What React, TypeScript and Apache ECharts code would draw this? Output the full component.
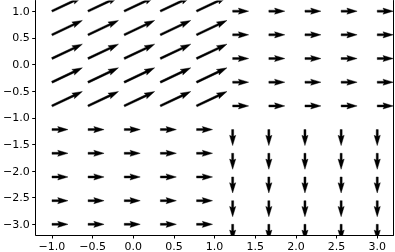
import React, { useEffect, useRef } from "react";
import * as echarts from "echarts";

// Grid coordinates (tails of arrows)
const X = [-1.0, -0.556, -0.111, 0.333, 0.778, 1.222, 1.667, 2.111, 2.556, 3.0];
const Y = [1.0, 0.556, 0.111, -0.333, -0.778, -1.222, -1.667, -2.111, -2.556, -3.0];

// Vector components, one row per Y value (top to bottom), one column per X value
const U = [
  [1.9, 1.9, 1.9, 1.9, 1.9, 1, 1, 1, 1, 1],
  [1.9, 1.9, 1.9, 1.9, 1.9, 1, 1, 1, 1, 1],
  [1.9, 1.9, 1.9, 1.9, 1.9, 1, 1, 1, 1, 1],
  [1.9, 1.9, 1.9, 1.9, 1.9, 1, 1, 1, 1, 1],
  [1.9, 1.9, 1.9, 1.9, 1.9, 1, 1, 1, 1, 1],
  [1, 1, 1, 1, 1, 0, 0, 0, 0, 0],
  [1, 1, 1, 1, 1, 0, 0, 0, 0, 0],
  [1, 1, 1, 1, 1, 0, 0, 0, 0, 0],
  [1, 1, 1, 1, 1, 0, 0, 0, 0, 0],
  [1, 1, 1, 1, 1, 0, 0, 0, 0, 0],
];
const V = [
  [0.9, 0.9, 0.9, 0.9, 0.9, 0, 0, 0, 0, 0],
  [0.9, 0.9, 0.9, 0.9, 0.9, 0, 0, 0, 0, 0],
  [0.9, 0.9, 0.9, 0.9, 0.9, 0, 0, 0, 0, 0],
  [0.9, 0.9, 0.9, 0.9, 0.9, 0, 0, 0, 0, 0],
  [0.9, 0.9, 0.9, 0.9, 0.9, 0, 0, 0, 0, 0],
  [0, 0, 0, 0, 0, -1, -1, -1, -1, -1],
  [0, 0, 0, 0, 0, -1, -1, -1, -1, -1],
  [0, 0, 0, 0, 0, -1, -1, -1, -1, -1],
  [0, 0, 0, 0, 0, -1, -1, -1, -1, -1],
  [0, 0, 0, 0, 0, -1, -1, -1, -1, -1],
];

const X_TICKS = [-1.0, -0.5, 0.0, 0.5, 1.0, 1.5, 2.0, 2.5, 3.0];
const Y_TICKS = [1.0, 0.5, 0.0, -0.5, -1.0, -1.5, -2.0, -2.5, -3.0];

const fmt = (v: number) => {
  const s = Math.abs(v).toFixed(1);
  return v < -1e-9 ? "\u2212" + s : s;
};

export default function App() {
  const ref = useRef<HTMLDivElement>(null);
  useEffect(() => {
    if (!ref.current) return;
    const chart = echarts.init(ref.current, null, { renderer: "svg" });
    const data: number[][] = [];
    Y.forEach((y, i) => {
      X.forEach((x, j) => {
        data.push([x, y, U[i][j], V[i][j]]);
      });
    });
    const PX_PER_UNIT = 16; // quiver scale
    const W = 2.05; // shaft width px
    const font = "DejaVu Sans";
    chart.setOption({
      animation: false,
      grid: { left: 33, right: 1.5, top: 0.5, bottom: 16 },
      xAxis: {
        type: "value",
        min: -1.2,
        max: 3.2,
        splitLine: { show: false },
        axisLine: { show: true, onZero: false, lineStyle: { color: "#000", width: 1 } },
        axisTick: { show: true, length: 3.5, customValues: X_TICKS, lineStyle: { color: "#000" } },
        axisLabel: {
          customValues: X_TICKS,
          formatter: fmt,
          color: "#000",
          fontFamily: font,
          fontSize: 11,
          margin: 6,
        },
      },
      yAxis: [
        {
          type: "value",
          min: -3.2,
          max: 1.2,
          splitLine: { show: false },
          axisLine: { show: true, onZero: false, lineStyle: { color: "#000", width: 1 } },
          axisTick: { show: true, length: 3.5, customValues: Y_TICKS, lineStyle: { color: "#000" } },
          axisLabel: {
            customValues: Y_TICKS,
            formatter: fmt,
            color: "#000",
            fontFamily: font,
            fontSize: 11,
            margin: 6,
          },
        },
        {
          type: "value",
          position: "right",
          min: -3.2,
          max: 1.2,
          splitLine: { show: false },
          axisLine: { show: true, onZero: false, lineStyle: { color: "#000", width: 1 } },
          axisTick: { show: false },
          axisLabel: { show: false },
        },
      ],
      series: [
        {
          type: "custom",
          clip: true,
          data,
          renderItem: (params: any, api: any) => {
            const x = api.value(0);
            const y = api.value(1);
            const u = api.value(2);
            const v = api.value(3);
            const p = api.coord([x, y]);
            const L = Math.sqrt(u * u + v * v) * PX_PER_UNIT;
            const ang = Math.atan2(-v, u);
            const c = Math.cos(ang);
            const s = Math.sin(ang);
            const local = [
              [0, -W / 2],
              [L - 4.5 * W, -W / 2],
              [L - 5 * W, -1.5 * W],
              [L, 0],
              [L - 5 * W, 1.5 * W],
              [L - 4.5 * W, W / 2],
              [0, W / 2],
            ];
            const pts = local.map(([a, b]) => [p[0] + a * c - b * s, p[1] + a * s + b * c]);
            return {
              type: "polygon",
              shape: { points: pts },
              style: { fill: "#000", stroke: "#000", lineWidth: 0.4 },
            };
          },
        },
      ],
    });
    return () => chart.dispose();
  }, []);
  return (
    <div
      ref={ref}
      style={{ position: "fixed", left: 0, top: 0, width: 395, height: 252 }}
    />
  );
}
